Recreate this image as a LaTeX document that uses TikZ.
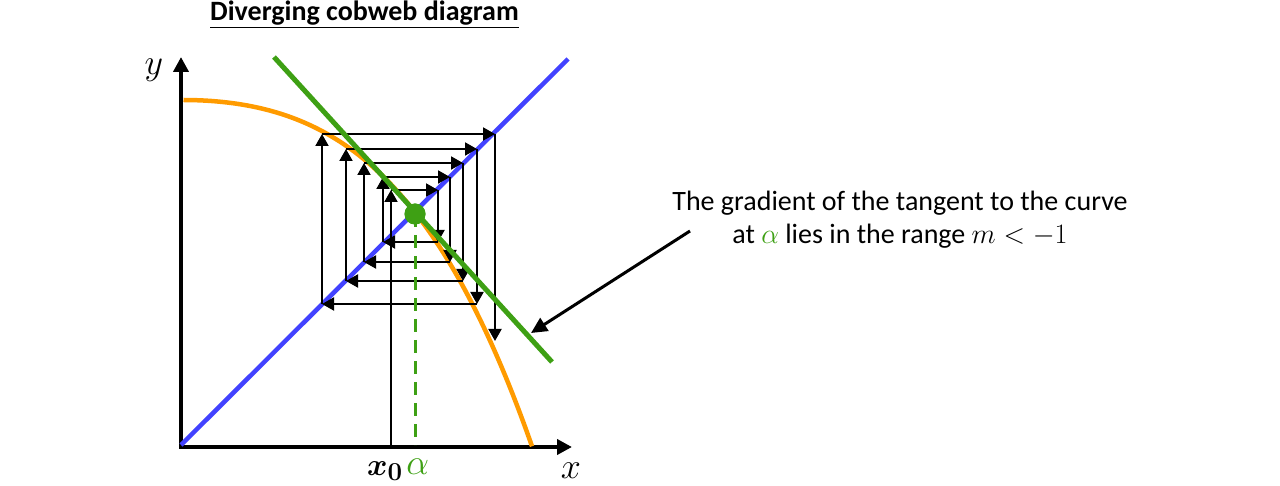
\documentclass[tikz,border=0pt]{standalone}
\usepackage{bm}
\usepackage{graphicx}
\usepackage{fontspec}
\setmainfont{Carlito}
\usetikzlibrary{arrows.meta}
\definecolor{cbgreen}{RGB}{62,160,20}
\definecolor{cbblue}{RGB}{66,66,255}
\definecolor{cborange}{RGB}{255,155,0}
\tikzset{
  axisline/.style={line width=4pt,-{Triangle[width=15pt,length=15pt]}},
  cobarrow/.style={line width=2pt,-{Triangle[width=13pt,length=12pt]}},
  pointer/.style={line width=3pt,-{Triangle[width=15pt,length=16pt]}},
  bigmath/.style={font=\fontsize{24.88}{30}\selectfont,scale=1.45},
}
\newcommand{\annmath}[1]{\scalebox{1.13}{$#1$}}
\begin{document}
\begin{tikzpicture}[x=1pt,y=-1pt]
\useasboundingbox (0,0) rectangle (1280,486);
% axes
\coordinate (O) at (181,447);
\coordinate (ytip) at (181,57);
\coordinate (xtip) at (572,447);
\coordinate (O2) at (179,447);
\draw[axisline] (O) -- (ytip);
\draw[axisline] (O2) -- (xtip);
% curve
\draw[cborange,line width=4.5pt] plot[domain=0.5:349,samples=150,smooth]
  ({183+\x},{100+0.0012*\x*\x+47.4*pow(\x/232,3.52)});
% y = x line
\coordinate (b1) at (181,445);
\coordinate (b2) at (568,59);
\draw[cbblue,line width=4.5pt] (b1) -- (b2);
% cobweb
\coordinate (c0) at (391,447);
\coordinate (c1) at (391,190);
\coordinate (c2) at (438,190);
\coordinate (c3) at (438,242);
\coordinate (c4) at (383,242);
\coordinate (c5) at (383,177);
\coordinate (c6) at (450,177);
\coordinate (c7) at (450,262);
\coordinate (c8) at (364,262);
\coordinate (c9) at (364,163);
\coordinate (c10) at (463,163);
\coordinate (c11) at (463,281);
\coordinate (c12) at (346,281);
\coordinate (c13) at (346,149);
\coordinate (c14) at (477,149);
\coordinate (c15) at (477,304);
\coordinate (c16) at (322,304);
\coordinate (c17) at (322,134);
\coordinate (c18) at (495,134);
\coordinate (c19) at (495,341);
\foreach \a/\b in {0/1,1/2,2/3,3/4,4/5,5/6,6/7,7/8,8/9,9/10,10/11,11/12,12/13,13/14,14/15,15/16,16/17,17/18,18/19}
  \draw[cobarrow] (c\a) -- (c\b);
% tangent line
\coordinate (t1) at (274,57);
\coordinate (t2) at (552,362);
\draw[cbgreen,line width=5pt] (t1) -- (t2);
% dashed
\node[circle,fill=cbgreen,inner sep=0pt,minimum size=21pt] (alpha) at (415,214) {};
\coordinate (abase) at (415,445);
\draw[cbgreen,line width=3pt,dash pattern=on 13pt off 8pt] (alpha.center) -- (abase);
\node[circle,fill=cbgreen,inner sep=0pt,minimum size=21pt] (alphadot) at (alpha) {};
% labels
\node[bigmath,anchor=base,inner sep=0pt] (ylab) at (154,75) {$y$};
\node[bigmath,anchor=base,inner sep=0pt] (xlab) at (571,478) {$x$};
\node[bigmath,scale=0.86,anchor=base east,inner sep=0pt] (x0lab) at (403,475) {$\bm{x_0}$};
\node[bigmath,anchor=base west,inner sep=0pt,text=cbgreen] (alab) at (406,474) {$\alpha$};
% title
\node[anchor=base,inner sep=0pt,font=\fontsize{28}{34}\selectfont\bfseries] (title) at (364.5,21) {\underline{Diverging cobweb diagram}};
% annotation
\node[anchor=base,inner sep=0pt,font=\fontsize{28}{34}\selectfont] (ann1) at (900,211) {The gradient of the tangent to the curve};
\node[anchor=base,inner sep=0pt,font=\fontsize{28}{34}\selectfont] (ann2) at (900,244) {at \textcolor{cbgreen}{\annmath{\alpha}} lies in the range \annmath{m<-1}};
\coordinate (pstart) at (690,231);
\coordinate (pend) at (531,333);
\draw[pointer] (pstart) -- (pend);
\end{tikzpicture}
\end{document}
